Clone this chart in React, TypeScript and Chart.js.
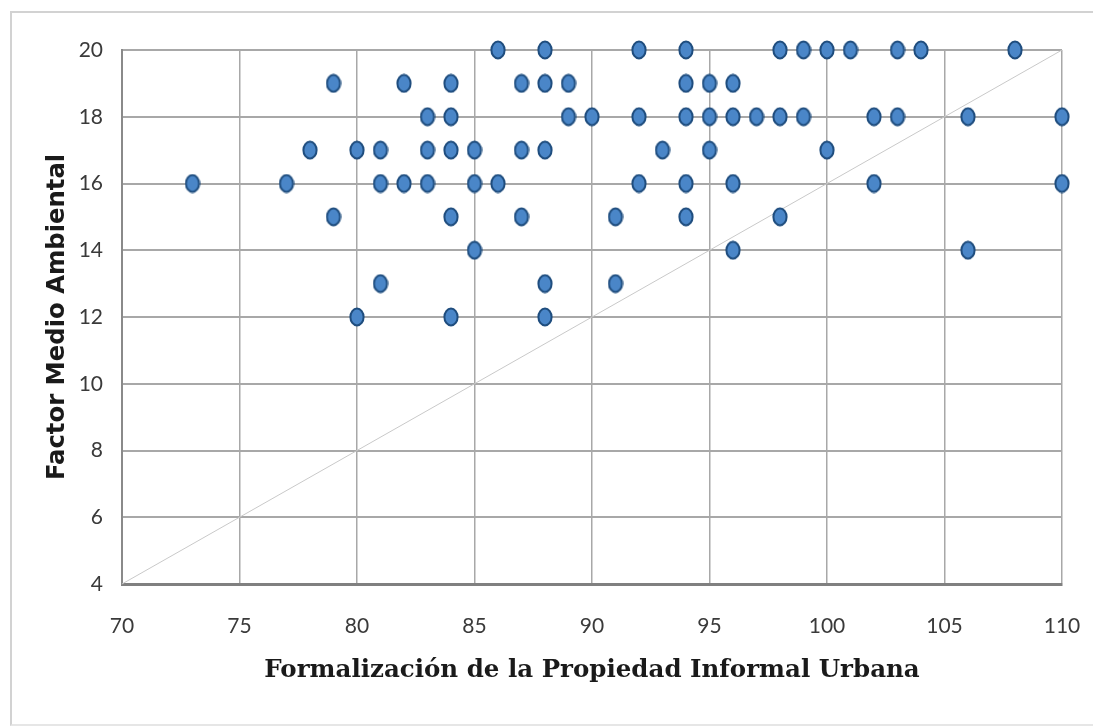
import React, { useEffect, useRef } from "react";
import { Chart, registerables } from "chart.js";

Chart.register(...registerables);

// Observations grouped by their "Factor Medio Ambiental" value
const xAtY20 = [86, 88, 92, 94, 98, 99, 100, 101, 103, 104, 108];
const xAtY19 = [79, 82, 84, 87, 88, 89, 94, 95, 96];
const xAtY18 = [83, 84, 89, 90, 92, 94, 95, 96, 97, 98, 99, 102, 103, 106, 110];
const xAtY17 = [78, 80, 81, 83, 84, 85, 87, 88, 93, 95, 100];
const xAtY16 = [73, 77, 81, 82, 83, 85, 86, 92, 94, 96, 102, 110];
const xAtY15 = [79, 84, 87, 91, 94, 98];
const xAtY14 = [85, 96, 106];
const xAtY13 = [81, 88, 91];
const xAtY12 = [80, 84, 88];

const yLevels = [20, 19, 18, 17, 16, 15, 14, 13, 12];
const xGroups = [xAtY20, xAtY19, xAtY18, xAtY17, xAtY16, xAtY15, xAtY14, xAtY13, xAtY12];

// Reference diagonal
const diagonalX = [70, 110];
const diagonalY = [4, 20];

const xTitle = "Formalización de la Propiedad Informal Urbana";
const yTitle = "Factor Medio Ambiental";

function makeDot(): HTMLCanvasElement {
  const c = document.createElement("canvas");
  c.width = 16;
  c.height = 20;
  const ctx = c.getContext("2d")!;
  ctx.beginPath();
  ctx.ellipse(8, 10, 6.6, 8.4, 0, 0, Math.PI * 2);
  ctx.fillStyle = "#4a86c8";
  ctx.fill();
  ctx.lineWidth = 2;
  ctx.strokeStyle = "#1f4d7e";
  ctx.stroke();
  return c;
}

export default function App() {
  const ref = useRef<HTMLCanvasElement | null>(null);

  useEffect(() => {
    if (!ref.current) return;
    const points: { x: number; y: number }[] = [];
    yLevels.forEach((yv, i) => {
      xGroups[i].forEach((xv) => points.push({ x: xv, y: yv }));
    });
    const diag = diagonalX.map((xv, i) => ({ x: xv, y: diagonalY[i] }));
    const dot = makeDot();

    const tickFont = { family: "Lato, 'Open Sans', sans-serif", size: 21 };

    const chart = new Chart(ref.current, {
      type: "scatter",
      data: {
        datasets: [
          {
            type: "line",
            data: diag,
            borderColor: "#c9c9c9",
            borderWidth: 1,
            pointRadius: 0,
            fill: false,
            order: 2,
          } as any,
          {
            type: "scatter",
            data: points,
            pointStyle: dot as any,
            pointRadius: 8,
            clip: false as any,
            order: 1,
          },
        ],
      },
      options: {
        responsive: false,
        animation: false,
        events: [],
        layout: { padding: { top: 50, right: 31, left: 0, bottom: 0 } },
        plugins: { legend: { display: false }, tooltip: { enabled: false } },
        scales: {
          x: {
            type: "linear",
            min: 70,
            max: 110,
            ticks: { stepSize: 5, font: tickFont, color: "#3a3a3a", padding: 30 },
            grid: { color: "#a8a8a8", lineWidth: 1.5, drawTicks: false },
            border: { color: "#808080", width: 3 },
            title: {
              display: true,
              text: xTitle,
              color: "#1a1a1a",
              font: { family: "'DejaVu Serif', serif", size: 24.5, weight: "bold" },
              padding: { top: 0, bottom: 41 },
            },
            afterFit: (s: any) => {
              s.height = 142;
              s.paddingLeft = 0;
              s.paddingRight = 0;
            },
          },
          y: {
            type: "linear",
            min: 4,
            max: 20,
            ticks: { stepSize: 2, font: tickFont, color: "#3a3a3a", padding: 19 },
            grid: { color: "#a8a8a8", lineWidth: 2, drawTicks: false },
            border: { color: "#8a8a8a", width: 2 },
            title: {
              display: true,
              text: yTitle,
              color: "#1a1a1a",
              font: { family: "'DejaVu Sans', sans-serif", size: 24.3, weight: "bold" },
              padding: { top: 43, bottom: 0 },
            },
            afterFit: (s: any) => {
              s.width = 122;
              s.paddingTop = 0;
              s.paddingBottom = 0;
            },
          },
        },
      },
    });
    return () => chart.destroy();
  }, []);

  return (
    <div
      style={{
        position: "fixed",
        left: 0,
        top: 0,
        width: 1093,
        height: 726,
        overflow: "hidden",
        background: "#ffffff",
      }}
    >
      <div
        style={{
          position: "absolute",
          left: 10,
          top: 11,
          width: 1200,
          height: 711,
          borderTop: "2px solid #d2d2d2",
          borderLeft: "2px solid #d2d2d2",
          borderBottom: "2px solid #e6e6e6",
        }}
      />
      <canvas
        ref={ref}
        width={1093}
        height={726}
        style={{ position: "absolute", left: 0, top: 0, width: 1093, height: 726 }}
      />
    </div>
  );
}
